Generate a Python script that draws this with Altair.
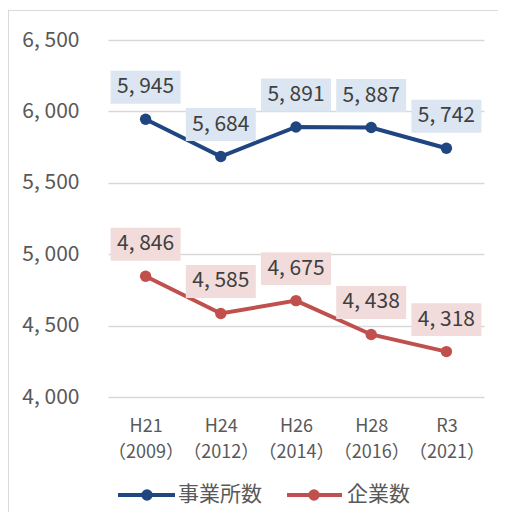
import altair as alt
import pandas as pd

categories = ["H21\n（2009）", "H24\n（2012）", "H26\n（2014）", "H28\n（2016）", "R3\n（2021）"]
series_names = ["事業所数", "企業数"]
establishments = [5945, 5684, 5891, 5887, 5742]
companies = [4846, 4585, 4675, 4438, 4318]
y_ticks = [4000, 4500, 5000, 5500, 6000, 6500]

line_colors = ["#1F4680", "#C0504D"]
box_colors = ["#DCE6F2", "#F2DCDB"]

rows = []
for s, vals in zip(series_names, [establishments, companies]):
    for c, v in zip(categories, vals):
        rows.append({"cat": c, "series": s, "value": v})
df = pd.DataFrame(rows)

FONT = "Noto Sans CJK JP"
GRAY = "#595959"

W, H = 376, 357

x_enc = alt.X(
    "cat:N", sort=categories, title=None,
    axis=alt.Axis(
        labelExpr="split(datum.label, '\\n')", labelAngle=0, domain=False, ticks=False,
        labelFont=FONT, labelFontSize=18, labelColor=GRAY, labelLineHeight=26,
        labelPadding=20, grid=False,
    ),
)
y_enc = alt.Y(
    "value:Q", title=None,
    scale=alt.Scale(domain=[4000, 6500], nice=False, zero=False),
    axis=alt.Axis(
        values=y_ticks, domain=False, ticks=False, grid=True, gridColor="#D9D9D9",
        gridWidth=1.3, labelFont=FONT, labelFontSize=21, labelColor=GRAY,
        labelPadding=29, labelExpr="replace(format(datum.value, ','), ',', ', ')",
    ),
)

layers = []
# outer frame (light border of the chart area)
frame_df = pd.DataFrame({"a": [0]})
layers.append(alt.Chart(frame_df).mark_rule(color="#D9D9D9", strokeWidth=1).encode(
    x=alt.value(-99.5), y=alt.value(-29.5), y2=alt.value(700)))
layers.append(alt.Chart(frame_df).mark_rule(color="#D9D9D9", strokeWidth=1).encode(
    x=alt.value(-100), x2=alt.value(700), y=alt.value(-29.5)))

for s, lc in zip(series_names, line_colors):
    b = alt.Chart(df).transform_filter(alt.datum.series == s)
    layers.append(b.mark_line(color=lc, strokeWidth=4).encode(x=x_enc, y=y_enc))
    layers.append(b.mark_point(color=lc, filled=True, opacity=1, size=130).encode(x=x_enc, y=y_enc))

for s, bc in zip(series_names, box_colors):
    b = alt.Chart(df).transform_filter(alt.datum.series == s)
    layers.append(b.mark_point(
        shape="M-1,-0.47L1,-0.47L1,0.47L-1,0.47Z", filled=True, opacity=1, color=bc,
        size=4900, strokeWidth=0, yOffset=-32).encode(x=x_enc, y=y_enc))
    layers.append(b.transform_calculate(
        label="replace(format(datum.value, ','), ',', ', ')"
    ).mark_text(font=FONT, fontSize=21, color="#404040", dy=-32, baseline="middle").encode(
        x=x_enc, y=y_enc, text="label:N"))

# legend
leg_y = 455
leg_pos = [(10, 67, 39, 70), (179, 234, 206, 239)]
for s, lc, (x1, x2, xd, xt) in zip(series_names, line_colors, leg_pos):
    ld = pd.DataFrame({"series": [s]})
    layers.append(alt.Chart(ld).mark_rule(color=lc, strokeWidth=4).encode(
        x=alt.value(x1), x2=alt.value(x2), y=alt.value(leg_y)))
    layers.append(alt.Chart(ld).mark_point(color=lc, filled=True, opacity=1, size=130).encode(
        x=alt.value(xd), y=alt.value(leg_y)))
    layers.append(alt.Chart(ld).mark_text(font=FONT, fontSize=21, color=GRAY, align="left",
                                          baseline="middle").encode(
        x=alt.value(xt), y=alt.value(leg_y), text="series:N"))

chart = alt.layer(*layers).properties(
    width=W, height=H,
    autosize=alt.AutoSizeParams(type="none"),
    padding={"left": 100, "top": 32, "right": 14, "bottom": 115},
).configure_view(stroke=None)

chart.save("out.html", embed_options={"renderer": "svg", "actions": False})
